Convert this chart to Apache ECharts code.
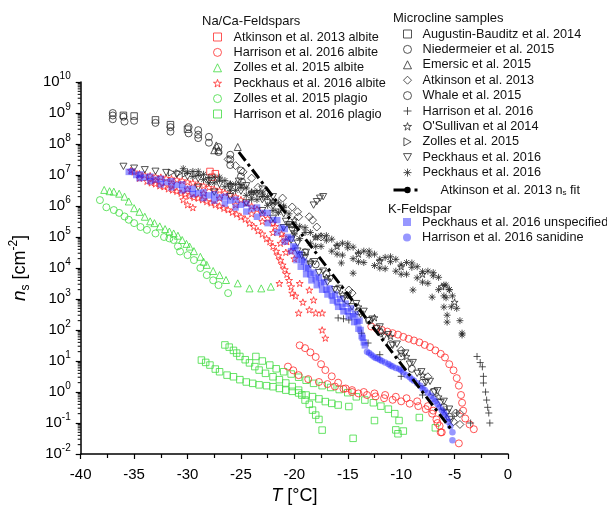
<!DOCTYPE html>
<html>
<head>
<meta charset="utf-8">
<script src="https://cdn.jsdelivr.net/npm/echarts@6/dist/echarts.min.js"></script>
<style>
  html, body { margin: 0; padding: 0; background: #fff; }
  #chart { width: 607px; height: 510px; }
</style>
</head>
<body>
<div id="chart"></div>
<script>
// values: [T in degC, ns in cm^-2]

// Na/Ca-Feldspars
var atkinsonAlbite = [[-27.9, 1.3e7], [-27.4, 1.1e7], [-27.7, 8.5e6]];
var harrisonAlbite = [
  [-12.8, 130], [-12.3, 112], [-11.8, 100], [-11.3, 89], [-10.8, 79], [-10.3, 71], [-9.8, 60], [-9.3, 52],
  [-8.8, 46], [-8.3, 40], [-7.8, 33], [-7.3, 28], [-6.8, 22], [-6.3, 17], [-5.9, 13], [-5.5, 7.9],
  [-5.1, 5.0], [-4.8, 2.8], [-4.6, 1.6], [-4.4, 0.8], [-4.3, 0.45], [-4.2, 0.25], [-4.0, 0.14], [-3.6, 0.09], [-3.2, 0.063],
  [-19.5, 32], [-19.0, 26], [-18.5, 19], [-18.0, 13.5], [-17.5, 7.9], [-17.1, 5.1], [-16.5, 3.2], [-15.9, 2.0],
  [-15.2, 1.3], [-14.6, 1.0], [-14.0, 0.9], [-13.2, 0.8], [-12.4, 0.72], [-11.6, 0.63], [-10.8, 0.56], [-10.0, 0.5],
  [-9.2, 0.42], [-8.4, 0.35], [-7.7, 0.28], [-7.1, 0.2], [-6.7, 0.13], [-6.4, 0.08], [-6.2, 0.05],
  [-20.6, 6.6], [-20.1, 5.0], [-19.6, 3.5], [-18.7, 2.6], [-17.7, 2.1], [-16.9, 1.8], [-16.2, 1.5], [-15.4, 1.26],
  [-14.6, 1.15], [-13.5, 1.0], [-12.5, 0.9], [-11.5, 0.8], [-10.5, 0.7], [-9.5, 0.63], [-8.5, 0.5], [-7.5, 0.35],
  [-7.0, 0.25], [-6.6, 0.1], [-6.3, 0.05], [-4.6, 0.022]
];
var zollesAlbite = [
  [-37.8, 3.3e6], [-37.3, 3.0e6], [-36.9, 2.9e6], [-36.4, 2.5e6], [-35.9, 2.0e6], [-35.5, 1.4e6], [-35.0, 8.5e5],
  [-34.5, 6.5e5], [-34.0, 4.5e5], [-33.5, 3.2e5], [-33.1, 2.8e5], [-32.6, 2.2e5], [-32.1, 1.8e5], [-31.7, 1.5e5],
  [-31.3, 1.3e5], [-30.9, 1.1e5], [-30.5, 8e4], [-30.1, 6e4], [-29.8, 4.9e4], [-29.4, 3.5e4], [-28.8, 2.3e4],
  [-28.5, 1.6e4], [-28.2, 1.26e4], [-27.6, 8e3], [-27.0, 5.9e3], [-26.4, 4.1e3], [-25.3, 3.2e3], [-24.2, 2.2e3],
  [-23.1, 2.2e3], [-22.2, 2.5e3]
];
var peckhausAlbite = [
  [-35.3, 1.4e7], [-34.5, 1.1e7], [-33.5, 9.5e6], [-32.5, 8.5e6], [-31.5, 7.6e6], [-30.5, 6.6e6], [-29.5, 5.6e6],
  [-28.5, 4.5e6], [-27.5, 3.5e6], [-26.5, 2.7e6], [-25.5, 2.0e6], [-24.5, 1.26e6], [-23.5, 7.9e5], [-22.5, 4.0e5],
  [-21.8, 2.2e5], [-21.2, 1.26e5], [-20.7, 7.1e4], [-20.3, 3.5e4], [-20.0, 2.0e4],
  [-34.5, 7.9e6], [-33.0, 6.6e6], [-31.5, 5.0e6], [-30.0, 3.5e6], [-28.5, 2.6e6], [-27.0, 1.8e6], [-25.5, 1.1e6],
  [-24.0, 5.6e5], [-23.0, 3.2e5], [-22.0, 1.4e5], [-21.3, 6.3e4], [-20.8, 3.2e4],
  [-33.8, 6.3e6], [-33.0, 5.2e6], [-32.2, 4.2e6], [-31.4, 3.3e6], [-30.6, 2.6e6], [-29.8, 2.1e6], [-29.0, 1.8e6],
  [-28.2, 1.4e6], [-27.4, 1.1e6], [-26.6, 8.5e5], [-25.8, 6.3e5], [-25.0, 4.5e5], [-24.2, 2.8e5], [-23.4, 1.6e5],
  [-22.6, 8.9e4], [-22.0, 5.0e4], [-21.5, 2.5e4], [-21.1, 1.26e4], [-20.7, 6.3e3], [-20.3, 2.5e3], [-19.9, 1.26e3],
  [-35.0, 1.26e7], [-34.0, 1.0e7], [-33.0, 8.9e6], [-32.0, 7.9e6], [-31.0, 7.1e6], [-30.0, 6.0e6], [-29.0, 5.0e6],
  [-28.0, 4.0e6], [-27.0, 3.2e6], [-26.0, 2.3e6], [-25.0, 1.6e6], [-24.0, 1.0e6], [-23.0, 5.6e5], [-22.0, 2.8e5],
  [-21.0, 1.0e5],
  [-33.4, 5.6e6], [-32.6, 4.5e6], [-31.8, 3.6e6], [-31.0, 3.0e6], [-30.2, 2.4e6], [-29.4, 1.9e6], [-28.6, 1.6e6],
  [-27.8, 1.26e6], [-27.0, 1.0e6], [-26.2, 7.6e5], [-25.4, 5.5e5], [-24.6, 3.8e5], [-23.8, 2.2e5], [-23.0, 1.26e5],
  [-22.3, 7.1e4], [-21.7, 3.5e4], [-21.3, 1.8e4], [-20.9, 8.9e3], [-20.5, 4.0e3],
  [-30.4, 1.6e6], [-30.0, 1.1e6], [-29.5, 8.9e5], [-21.4, 3.2e3], [-20.2, 1.55e3], [-19.5, 3.2e3], [-19.6, 355],
  [-19.2, 790], [-18.6, 1.95e3], [-18.6, 450], [-18.2, 930], [-18.0, 355], [-17.4, 355], [-17.4, 100], [-17.1, 55]
];
var zollesPlagio = [
  [-38.2, 1.55e6], [-37.6, 9.1e5], [-36.9, 7.4e5], [-36.4, 6e5], [-35.9, 4.6e5], [-35.5, 3.6e5], [-35.0, 2.8e5],
  [-34.4, 2.1e5], [-33.8, 1.7e5], [-33.0, 1.3e5], [-32.2, 1.0e5], [-31.7, 9e4], [-31.3, 8e4], [-30.9, 5e4],
  [-30.7, 3.4e4], [-30.0, 2.6e4], [-29.4, 1.8e4], [-28.8, 1.0e4], [-28.2, 5.9e3], [-27.6, 4e3], [-27.1, 2.8e3],
  [-26.2, 1.55e3]
];
var harrisonPlagio = [
  [-28.7, 10.7], [-28.3, 9], [-27.9, 7.4], [-27.4, 5.5], [-27.0, 4.5], [-26.3, 3.5], [-25.7, 3.1], [-25.1, 2.5],
  [-24.5, 2.1], [-23.9, 1.9], [-23.3, 1.7], [-22.6, 1.6], [-22.0, 1.48], [-21.4, 1.3], [-20.8, 1.15], [-20.2, 1.05],
  [-19.6, 0.93], [-18.9, 0.8], [-18.3, 0.71], [-17.7, 0.6], [-17.1, 0.49], [-16.5, 0.43], [-15.9, 0.38], [-14.9, 0.34],
  [-26.5, 33], [-26.1, 28], [-25.7, 22], [-25.4, 18], [-25.1, 14], [-24.6, 11], [-24.2, 8.7], [-23.7, 6.6],
  [-23.3, 5.1], [-22.7, 4.0], [-22.0, 3.1], [-21.4, 2.5], [-20.8, 1.95], [-20.2, 1.5], [-19.6, 1.15], [-19.3, 0.8],
  [-19.0, 0.55], [-18.6, 0.4], [-18.3, 0.26], [-18.0, 0.18], [-17.7, 0.13], [-17.4, 0.059],
  [-23.6, 14], [-23.0, 10], [-22.3, 7.4], [-21.7, 5.6], [-21.0, 4.5], [-20.3, 3.8], [-19.6, 3.0], [-18.9, 2.4],
  [-18.2, 1.9], [-17.4, 1.6], [-16.6, 1.4], [-15.8, 1.2], [-15.0, 0.95], [-14.2, 0.7], [-13.4, 0.55], [-12.6, 0.45],
  [-11.9, 0.35], [-11.2, 0.28], [-10.6, 0.2], [-10.2, 0.12], [-10.5, 0.06], [-10.3, 0.045], [-9.8, 0.055],
  [-14.5, 0.032], [-12.5, 0.12], [-8.3, 0.15], [-6.8, 0.07]
];

// Microcline samples
var augustinMicro = [[-36.0, 8.4e8], [-35.0, 8.0e8], [-33.0, 6.0e8], [-31.6, 4.2e8], [-30.0, 3.0e8]];
var niedermeierMicro = [
  [-37.0, 1.0e9], [-37.0, 8.3e8], [-37.0, 6.3e8], [-36.0, 7.6e8], [-35.9, 5.3e8], [-35.0, 5.6e8], [-33.0, 4.8e8],
  [-31.6, 3.5e8], [-31.6, 2.5e8], [-29.9, 3.5e8], [-29.9, 2.2e8], [-29.0, 2.8e8], [-29.0, 2.0e8], [-29.0, 1.55e8],
  [-28.0, 1.7e8], [-28.0, 1.1e8], [-27.1, 8e7], [-27.1, 5.5e7], [-26.0, 4.5e7], [-26.0, 3.2e7], [-26.0, 2.1e7],
  [-25.0, 1.4e7], [-25.0, 9e6], [-24.9, 6e6]
];
var emersicMicro = [[-27.5, 6.3e7], [-27.1, 6.3e7], [-27.3, 9e7], [-25.3, 8e7]];
var atkinsonMicro = [
  [-26.2, 3.2e7], [-25.5, 2.0e7], [-24.8, 1.26e7], [-24.0, 7.9e6], [-23.4, 4.0e6], [-22.6, 2.5e6], [-21.1, 1.8e6],
  [-20.2, 9.3e5], [-19.7, 6.5e5], [-19.6, 4.5e5], [-18.6, 4.5e5], [-18.3, 3.5e5], [-17.9, 2.1e5], [-17.5, 1.0e5],
  [-14.9, 1.95e3], [-14.6, 1.55e3], [-11.9, 79], [-10.0, 22], [-7.5, 3.1], [-4.9, 0.21], [-5.1, 0.11], [-4.5, 0.2], [-4.5, 0.09]
];
var whaleMicro = [
  [-19.0, 3.2e4], [-18.0, 1.3e4], [-17.0, 6.3e3], [-16.0, 2.0e3], [-15.0, 890], [-14.0, 400], [-13.0, 200],
  [-12.0, 89], [-11.0, 35], [-10.0, 14], [-9.0, 5.6], [-8.0, 2.0], [-7.0, 1.0], [-6.0, 0.32], [-5.5, 0.16]
];
var harrisonMicro = [
  [-15.9, 245], [-15.4, 230], [-14.9, 210], [-13.7, 79], [-13.1, 38], [-12.0, 16], [-10.0, 3.2], [-8.0, 0.8],
  [-6.0, 0.28], [-4.8, 0.21], [-3.5, 0.1], [-2.9, 14], [-2.6, 8.9], [-2.4, 6.5], [-2.3, 3.2], [-2.3, 1.95],
  [-2.1, 1.0], [-2.0, 0.55], [-1.9, 0.32], [-1.8, 0.21], [-1.7, 0.1]
];
var osullivanMicro = [
  [-26.0, 5.0e6], [-24.0, 2.8e6], [-22.0, 1.4e6], [-20.0, 3.5e5], [-18.0, 1.0e5], [-16.0, 5.0e4], [-14.0, 2.8e4],
  [-12.0, 1.66e4], [-10.0, 1.1e4], [-8.0, 6.3e3], [-6.2, 2.5e3], [-5.0, 790],
  [-18.5, 1.6e4], [-17.0, 5.0e3], [-15.5, 1.4e3], [-14.0, 560], [-12.5, 250], [-11.0, 63], [-9.5, 14], [-8.0, 3.5], [-6.5, 0.7]
];
var zollesMicro = [[-31.5, 1.2e7], [-30.8, 1.15e7], [-30.2, 1.1e7]];
var peckhausTri = [
  [-36.0, 1.9e7], [-35.0, 1.66e7], [-34.0, 1.48e7], [-33.0, 1.32e7], [-32.0, 1.2e7], [-31.0, 1.05e7], [-30.0, 8.9e6],
  [-29.0, 7.6e6], [-28.0, 6.3e6], [-27.0, 5.0e6], [-26.0, 4.0e6], [-25.0, 3.0e6], [-24.0, 2.2e6], [-23.0, 1.6e6],
  [-22.0, 1.0e6], [-21.0, 5.6e5], [-20.5, 2.5e5], [-20.0, 1.26e5], [-19.3, 2.5e4], [-18.5, 1.26e4], [-17.7, 7.1e3],
  [-16.9, 3.5e3], [-16.2, 2.0e3], [-15.4, 1.0e3], [-14.6, 560], [-13.8, 320], [-13.1, 200], [-12.3, 112],
  [-11.6, 63], [-10.8, 32], [-10.0, 17], [-9.2, 7.9], [-8.5, 4.0], [-7.7, 2.0], [-6.9, 1.0], [-6.3, 0.45],
  [-5.7, 0.21], [-5.3, 0.13],
  [-18.9, 3.2e4], [-18.1, 1.6e4], [-17.3, 7.9e3], [-16.6, 4.5e3], [-15.8, 2.2e3], [-15.0, 1.26e3], [-14.2, 710],
  [-13.5, 400], [-12.7, 224], [-12.0, 126], [-11.2, 71], [-10.4, 35], [-9.6, 18], [-8.9, 8.9], [-8.1, 4.5],
  [-7.3, 2.2], [-6.6, 1.1], [-6.0, 0.5], [-5.5, 0.28],
  [-29.0, 4.0e6], [-27.5, 2.8e6], [-26.0, 2.0e6], [-24.5, 1.26e6], [-23.0, 7.1e5], [-22.0, 4.0e5], [-21.0, 2.0e5],
  [-20.3, 7.9e4], [-19.7, 3.5e4],
  [-24.5, 4.5e6], [-23.5, 2.5e6], [-22.5, 1.3e6], [-21.5, 6.3e5], [-20.8, 3.2e5], [-20.2, 1.6e5], [-19.7, 6.3e4],
  [-19.0, 2.2e4], [-25.2, 6.3e6], [-23.0, 3.5e6], [-22.0, 2.0e6],
  [-18.2, 1.07e6], [-17.9, 1.38e6], [-17.6, 1.78e6], [-17.3, 2.0e6]
];
var peckhausAst = [
  [-30.4, 1.6e7], [-29.5, 1.3e7], [-28.5, 1.05e7], [-27.5, 8.5e6], [-26.5, 6.6e6], [-25.5, 5.0e6], [-24.5, 3.8e6],
  [-23.5, 2.8e6], [-22.5, 2.0e6], [-21.5, 1.26e6], [-20.5, 5.6e5], [-19.5, 2.2e5], [-18.5, 1.4e5], [-17.5, 1.1e5],
  [-16.5, 8.5e4], [-15.5, 6.3e4], [-14.5, 4.7e4], [-13.5, 3.5e4], [-12.5, 2.8e4], [-11.5, 2.2e4], [-10.5, 1.9e4],
  [-9.5, 1.5e4], [-8.5, 1.1e4], [-7.5, 7.9e3], [-6.5, 5.0e3], [-5.8, 2.8e3], [-5.2, 1.26e3], [-4.8, 500],
  [-4.5, 200], [-4.3, 79],
  [-29.5, 8.9e6], [-28.5, 7.1e6], [-27.5, 5.6e6], [-26.5, 4.2e6], [-25.5, 3.2e6], [-24.5, 2.2e6], [-23.5, 1.6e6],
  [-22.5, 1.05e6], [-21.5, 6.3e5], [-20.5, 2.5e5], [-19.5, 8.9e4], [-18.5, 6.3e4], [-17.5, 5.0e4], [-16.5, 3.5e4],
  [-15.5, 2.6e4], [-14.5, 2.0e4], [-13.5, 1.5e4], [-12.5, 1.2e4], [-11.5, 9.5e3], [-10.5, 7.9e3], [-9.5, 6.3e3],
  [-8.5, 4.8e3], [-7.5, 3.2e3], [-6.5, 2.0e3], [-5.8, 1.1e3], [-5.3, 560],
  [-29.0, 1.0e7], [-27.0, 6.8e6], [-25.0, 4.0e6], [-23.0, 2.0e6], [-21.0, 9.0e5], [-19.0, 1.4e5], [-17.0, 7.9e4],
  [-15.0, 4.5e4], [-13.0, 2.6e4], [-11.0, 1.6e4], [-9.0, 1.05e4], [-7.0, 5.6e3], [-5.5, 2.0e3],
  [-30.0, 1.26e7], [-28.0, 8.3e6], [-26.0, 5.2e6], [-24.0, 2.8e6], [-22.0, 1.26e6], [-20.0, 2.2e5], [-18.0, 1.0e5],
  [-16.0, 5.6e4], [-14.0, 3.2e4], [-12.0, 1.9e4], [-10.0, 1.26e4], [-8.0, 7.6e3], [-6.0, 2.8e3],
  [-29.0, 1.3e7], [-27.0, 8.5e6], [-25.0, 4.9e6], [-23.0, 2.6e6], [-21.0, 1.0e6], [-19.0, 2.0e5], [-17.0, 1.1e5],
  [-15.0, 6.0e4], [-13.0, 3.5e4], [-11.0, 2.3e4], [-9.0, 1.45e4], [-7.0, 7.1e3], [-5.5, 2.0e3],
  [-28.0, 5.6e6], [-26.0, 3.2e6], [-24.0, 1.66e6], [-22.0, 7.1e5], [-20.0, 1.26e5], [-18.0, 5.0e4], [-16.0, 2.8e4],
  [-14.0, 1.6e4], [-12.0, 1.0e4], [-10.0, 6.3e3], [-8.0, 3.5e3], [-6.0, 1.26e3],
  [-15.6, 1.45e4], [-14.5, 6.8e3], [-8.9, 1.95e3], [-7.1, 1.15e3], [-6.0, 550], [-5.7, 300], [-5.7, 180], [-4.3, 69]
];
var atkinsonFit = [[-25.2, 5.5e7], [-5.2, 0.055]];

// K-Feldspar
var peckhausK = [
  [-35.5, 1.26e7], [-34.8, 1.0e7], [-34.0, 8.3e6], [-33.0, 7.1e6], [-32.0, 5.9e6], [-31.0, 4.8e6], [-30.0, 3.55e6],
  [-29.0, 2.6e6], [-28.0, 2.2e6], [-27.0, 1.9e6], [-26.0, 1.5e6], [-25.0, 1.1e6], [-24.0, 8.3e5], [-23.0, 6.0e5],
  [-22.0, 3.55e5], [-21.2, 2.0e5], [-20.6, 1.0e5], [-20.1, 5.0e4], [-19.7, 2.8e4], [-19.3, 1.8e4], [-18.9, 1.0e4],
  [-18.5, 6.3e3], [-18.0, 4.5e3], [-17.5, 3.2e3], [-17.0, 2.0e3], [-16.5, 1.26e3], [-16.0, 790], [-15.5, 560],
  [-15.0, 400], [-14.5, 280], [-14.1, 180], [-13.8, 100], [-13.6, 56], [-13.4, 32],
  [-35.2, 1.3e7], [-34.4, 1.05e7], [-33.5, 8.9e6], [-32.5, 7.6e6], [-31.5, 6.3e6], [-30.5, 5.0e6], [-29.5, 3.6e6],
  [-28.5, 2.8e6], [-27.5, 2.4e6], [-26.5, 2.0e6], [-25.5, 1.6e6], [-24.5, 1.2e6], [-23.5, 8.9e5], [-22.5, 6.0e5],
  [-21.6, 3.5e5], [-20.9, 1.8e5], [-20.3, 8.9e4], [-19.9, 4.5e4], [-19.5, 2.8e4], [-19.1, 1.6e4], [-18.7, 1.0e4],
  [-18.2, 7.1e3], [-17.7, 5.0e3], [-17.2, 3.5e3], [-16.7, 2.2e3], [-16.2, 1.4e3], [-15.7, 1.0e3], [-15.2, 710],
  [-14.7, 500], [-14.3, 320], [-13.9, 200],
  [-34.5, 7.9e6], [-33.5, 6.3e6], [-32.5, 5.0e6], [-31.5, 4.0e6], [-30.5, 3.2e6], [-29.5, 2.4e6], [-28.5, 1.8e6],
  [-27.5, 1.5e6], [-26.5, 1.2e6], [-25.5, 9.0e5], [-24.5, 6.6e5], [-23.5, 4.5e5], [-22.5, 2.8e5], [-21.6, 1.4e5],
  [-20.9, 7.1e4], [-20.3, 3.5e4], [-19.8, 1.8e4], [-19.4, 1.1e4], [-18.9, 6.3e3], [-18.4, 4.0e3], [-17.9, 2.8e3],
  [-17.4, 2.0e3], [-16.9, 1.4e3], [-16.4, 890], [-15.9, 560], [-15.4, 400], [-14.9, 280], [-14.4, 180],
  [-14.0, 110], [-13.7, 63], [-13.5, 40]
];
var harrisonSanidine = [
  [-13.2, 20], [-12.8, 16], [-12.4, 12.6], [-12.0, 11], [-11.5, 8.9], [-11.0, 7.1], [-10.5, 6.0], [-10.0, 5.0],
  [-9.5, 3.5], [-9.0, 2.6], [-8.5, 1.9], [-8.0, 1.3], [-7.5, 0.95], [-7.0, 0.6], [-6.6, 0.4], [-6.2, 0.26],
  [-5.9, 0.18], [-5.6, 0.11], [-5.4, 0.079], [-5.2, 0.05], [-5.2, 0.028],
  [-13.0, 18], [-12.6, 14], [-12.2, 12], [-11.8, 10], [-11.2, 8], [-10.8, 6.6], [-10.2, 5.5], [-9.8, 4.3],
  [-9.2, 3.0], [-8.8, 2.3], [-8.2, 1.6], [-7.8, 1.15], [-7.2, 0.75], [-6.8, 0.5], [-6.4, 0.32], [-6.0, 0.22], [-5.7, 0.14]
];

var naNames = ['Atkinson et al. 2013 albite', 'Harrison et al. 2016 albite', 'Zolles et al. 2015 albite',
  'Peckhaus et al. 2016 albite', 'Zolles et al. 2015 plagio', 'Harrison et al. 2016 plagio'];
var microNames = ['Augustin-Bauditz et al. 2014', 'Niedermeier et al. 2015', 'Emersic et al. 2015',
  'Atkinson et al. 2013', 'Whale et al. 2015', 'Harrison et al. 2016', "O'Sullivan et al 2014",
  'Zolles et al. 2015', 'Peckhaus et al. 2016', 'Peckhaus et al. 2016 '];
var fitName = 'Atkinson et al. 2013 n{sub|s} fit';
var kNames = ['Peckhaus et al. 2016 unspecified', 'Harrison et al. 2016 sanidine'];

// log-spaced minor ticks on the y axis
var yMinorTicks = [];
for (var k = -2; k < 10; k++) {
  for (var m = 2; m <= 9; m++) yMinorTicks.push([-40, m * Math.pow(10, k)]);
}

var FONT = 'Liberation Sans, Arial, sans-serif';
var RED = '#ff2a2a', GREEN = '#40dc40', BLACK = '#2a2a2a', BLUE = 'rgba(38,38,255,0.6)';

var STAR = 'path://M5,0 L6.2,3.6 L10,3.6 L6.9,5.9 L8.1,9.5 L5,7.3 L1.9,9.5 L3.1,5.9 L0,3.6 L3.8,3.6 Z';
var TRI_DOWN = 'path://M0,0 L10,0 L5,9 Z';
var TRI_RIGHT = 'path://M0,0 L9,5 L0,10 Z';
var PLUS = 'path://M5,0 L5,10 M0,5 L10,5';
var AST = 'path://M5,0 L5,10 M0,5 L10,5 M1.5,1.5 L8.5,8.5 M8.5,1.5 L1.5,8.5';

function hollow (name, data, symbol, color, size) {
  return {
    name: name, type: 'scatter', data: data, symbol: symbol, symbolSize: size || 7,
    symbolKeepAspect: true,
    itemStyle: { color: 'rgba(0,0,0,0)', borderColor: color, borderWidth: 1 }
  };
}
function filled (name, data, symbol, color, size) {
  return {
    name: name, type: 'scatter', data: data, symbol: symbol, symbolSize: size || 6,
    symbolKeepAspect: true,
    itemStyle: { color: color, borderWidth: 0 }
  };
}

function legendText (padLeft) {
  return { fontSize: 12.7, fontFamily: FONT, color: '#111', lineHeight: 14, padding: [0, 0, 0, padLeft],
    rich: { sub: { fontSize: 8, verticalAlign: 'bottom', lineHeight: 8 } } };
}
var hollowIcon = { color: 'rgba(0,0,0,0)', borderWidth: 1 };

var option = {
  animation: false,
  backgroundColor: '#fff',
  grid: { left: 76, right: 99, top: 82, bottom: 56 },
  xAxis: {
    type: 'value', min: -40, max: 0, interval: 5,
    name: '{it|T} [°C]', nameLocation: 'middle', nameGap: 33,
    nameTextStyle: { fontSize: 18, fontFamily: FONT, color: '#000',
      rich: { it: { fontSize: 18, fontStyle: 'italic', fontFamily: FONT } } },
    axisLine: { onZero: false, lineStyle: { color: '#000', width: 1.5 } },
    axisTick: { inside: false, length: 5, lineStyle: { color: '#000', width: 1.2 } },
    minorTick: { show: true, splitNumber: 2, length: 4, lineStyle: { color: '#000', width: 1.2 } },
    axisLabel: { fontSize: 15, fontFamily: FONT, color: '#000', margin: 13 },
    splitLine: { show: false }
  },
  yAxis: {
    type: 'log', logBase: 10, min: 0.01, max: 1e10, interval: 1,
    name: '{it|n}{sub|s}{b| [cm}{sup|-2}{b|]}', nameLocation: 'middle', nameGap: 36, nameRotate: 90,
    nameTextStyle: { fontSize: 18, fontFamily: FONT, color: '#000',
      rich: {
        it: { fontSize: 19, fontStyle: 'italic', fontFamily: FONT, lineHeight: 24 },
        b: { fontSize: 18, fontFamily: FONT, lineHeight: 24 },
        sub: { fontSize: 12, fontFamily: FONT, lineHeight: 12, verticalAlign: 'bottom' },
        sup: { fontSize: 12, fontFamily: FONT, lineHeight: 12, verticalAlign: 'top' }
      } },
    axisLine: { onZero: false, lineStyle: { color: '#000', width: 1.5 } },
    axisTick: { inside: false, length: 5, lineStyle: { color: '#000', width: 1.2 } },
    axisLabel: {
      margin: 10, color: '#000',
      formatter: function (v) {
        return '{b|10}{sup|' + Math.round(Math.log10(v)) + '}';
      },
      rich: {
        b: { fontSize: 15, fontFamily: FONT, lineHeight: 22, color: '#000' },
        sup: { fontSize: 10, fontFamily: FONT, lineHeight: 10, verticalAlign: 'top', color: '#000' }
      }
    },
    splitLine: { show: false }
  },
  legend: [
    { data: naNames, orient: 'vertical', left: 208, top: 25, itemWidth: 8, itemHeight: 8, itemGap: 1.4,
      selectedMode: false, itemStyle: hollowIcon, textStyle: legendText(7) },
    { data: microNames, orient: 'vertical', left: 398, top: 22, itemWidth: 8, itemHeight: 8, itemGap: 1.4,
      selectedMode: false, itemStyle: hollowIcon, textStyle: legendText(6) },
    { data: [fitName], orient: 'vertical', left: 387, top: 178, itemWidth: 28, itemHeight: 8,
      selectedMode: false, lineStyle: { type: [16, 5, 3, 10], width: 3 }, textStyle: legendText(14) },
    { data: kNames, orient: 'vertical', left: 398, top: 210, itemWidth: 8, itemHeight: 8, itemGap: 1.4,
      selectedMode: false, textStyle: legendText(6) }
  ],
  graphic: [
    { type: 'text', left: 202, top: 15, style: { text: 'Na/Ca-Feldspars', fontSize: 13, fontFamily: FONT, fill: '#111' } },
    { type: 'text', left: 393, top: 12, style: { text: 'Microcline samples', fontSize: 13, fontFamily: FONT, fill: '#111' } },
    { type: 'text', left: 388, top: 203, style: { text: 'K-Feldspar', fontSize: 13, fontFamily: FONT, fill: '#111' } }
  ],
  series: [
    hollow(naNames[4], zollesPlagio, 'circle', GREEN),
    hollow(naNames[2], zollesAlbite, 'triangle', GREEN),
    hollow(naNames[5], harrisonPlagio, 'rect', GREEN, 6.5),
    hollow(naNames[1], harrisonAlbite, 'circle', RED),
    hollow(naNames[3], peckhausAlbite, STAR, RED),
    hollow(naNames[0], atkinsonAlbite, 'rect', RED, 6.5),
    hollow(microNames[0], augustinMicro, 'rect', BLACK, 6.5),
    hollow(microNames[1], niedermeierMicro, 'circle', BLACK),
    hollow(microNames[2], emersicMicro, 'triangle', BLACK),
    hollow(microNames[8], peckhausTri, TRI_DOWN, BLACK),
    hollow(microNames[9], peckhausAst, AST, BLACK),
    hollow(microNames[6], osullivanMicro, STAR, BLACK),
    hollow(microNames[3], atkinsonMicro, 'diamond', BLACK, 8),
    hollow(microNames[4], whaleMicro, 'circle', BLACK),
    hollow(microNames[5], harrisonMicro, PLUS, BLACK),
    hollow(microNames[7], zollesMicro, TRI_RIGHT, BLACK),
    filled(kNames[0], peckhausK, 'rect', BLUE, 6.5),
    filled(kNames[1], harrisonSanidine, 'circle', BLUE, 6.5),
    {
      name: fitName, type: 'line', data: atkinsonFit, symbol: 'none', z: 3,
      lineStyle: { color: '#000', width: 3, type: [11, 4, 3, 4] },
      itemStyle: { color: '#000' }
    },
    {
      type: 'custom', silent: true, clip: false, data: yMinorTicks,
      renderItem: function (params, api) {
        var p = api.coord([api.value(0), api.value(1)]);
        return { type: 'line', shape: { x1: p[0] - 3, y1: p[1], x2: p[0], y2: p[1] },
          style: { stroke: '#000', lineWidth: 1 } };
      }
    }
  ]
};

var chart = echarts.init(document.getElementById('chart'), null, { renderer: 'canvas' });
chart.setOption(option);
</script>
</body>
</html>
